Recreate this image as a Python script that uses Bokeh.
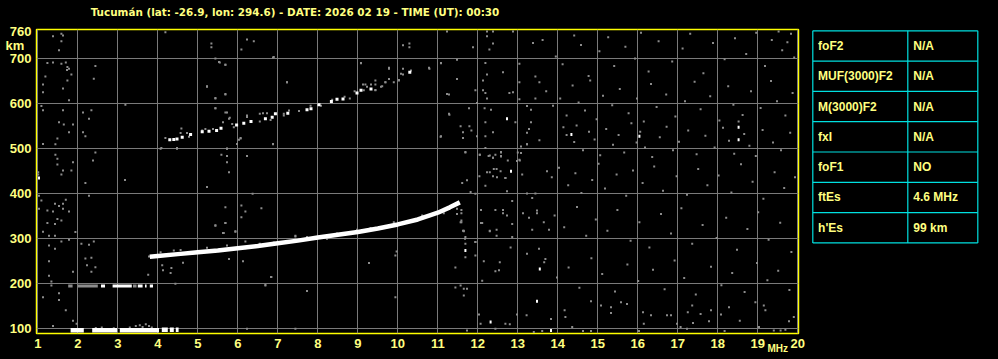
from bokeh.plotting import figure
from bokeh.layouts import row
from bokeh.models import FixedTicker, LinearAxis, Range1d
from bokeh.embed import file_html
from bokeh.resources import INLINE

# ---------------- data ----------------
title_text = "Tucumán (lat: -26.9, lon: 294.6) - DATE: 2026 02 19 - TIME (UT): 00:30"
freq_ticks = list(range(1, 21))
height_ticks = [100, 200, 300, 400, 500, 600, 700, 760]
grid_heights = [100, 200, 300, 400, 500, 600, 700]
km_unit_at = 730          # height at which the "km" unit text sits
mhz_unit_at = 19.5        # frequency at which the "MHz" unit text sits
title_at = 7.43           # frequency under the centre of the title

# F-layer main echo (MHz, km)
f_trace_freq = [3.80, 4.00, 4.50, 5.00, 5.50, 6.00, 6.50, 7.00, 7.50, 8.00, 8.50, 9.00,
                9.50, 10.00, 10.50, 10.80, 11.00, 11.30, 11.55]
f_trace_h = [260, 262, 266, 270, 274, 279, 284, 290, 296, 303, 309, 315,
             323, 332, 343, 352, 358, 370, 381]

# Es echo near 100 km: segments (start MHz, end MHz, km)
es1_start = [1.82, 2.36, 3.05, 4.10, 4.30, 4.45]
es1_end = [2.15, 2.98, 4.03, 4.25, 4.40, 4.52]
es1_h = [97, 97, 97, 98, 98, 98]

# second Es echo near 195 km (bright and faint parts)
es2_start = [2.58, 2.87, 3.50, 3.68, 3.80]
es2_end = [2.68, 3.35, 3.62, 3.72, 3.88]
es2_h = [195, 195, 195, 195, 195]
es2f_start = [1.76, 2.00, 3.38]
es2f_end = [1.87, 2.50, 3.47]
es2f_h = [195, 195, 195]

# second-hop F echo: bright dots
f2_bright_f = [4.30, 4.40, 4.48, 4.61, 4.82, 5.11, 5.28, 5.47, 5.58, 5.97, 6.15, 6.33,
               6.69, 6.86, 6.94, 7.25, 7.73, 7.83, 8.03, 8.34, 8.48, 8.63, 8.98, 9.08,
               9.33, 10.30]
f2_bright_h = [520, 521, 522, 526, 532, 538, 539, 541, 546, 553, 557, 561,
               567, 570, 578, 579, 587, 589, 598, 605, 610, 611, 624, 630,
               633, 670]

# other bright isolated dots
bright_f = [1.03, 11.69, 12.32, 12.73, 12.83, 13.48, 13.83, 14.34, 16.04, 18.52, 18.52, 13.55]
bright_h = [435, 274, 115, 567, 450, 161, 96, 532, 528, 548, 520, 233]

# faint (grey) echoes and background noise
noise_f = [
    # second-hop fringe
    4.19, 4.57, 4.73, 4.78, 5.11, 5.19, 5.38, 5.63, 5.86, 5.90, 6.23, 6.55, 6.55, 6.63, 6.73,
    6.82, 7.15, 7.28, 7.53, 7.82, 8.08, 8.36, 8.67, 8.80, 8.92, 9.13, 9.23, 9.33, 9.44, 9.44,
    9.58, 9.69, 9.78, 9.90, 10.03, 10.08, 10.13, 10.33, 10.78,
    # F-trace fringe
    3.78, 4.07, 4.40, 4.57, 5.23, 5.73, 6.19, 6.28, 6.55, 6.90, 7.23, 7.44, 7.73, 8.23, 8.48,
    8.98, 9.32, 9.90, 10.61, 11.15, 11.48, 11.48, 11.59, 11.65, 11.68,
    # Es fringe
    3.30, 3.45, 3.55, 3.62, 3.70, 3.78, 3.85, 2.45, 2.60, 2.90,
    # left region
    1.38, 1.59, 1.63, 1.59, 1.53, 1.24, 1.38, 1.59, 1.70, 1.74, 1.78, 1.73, 1.84, 1.19, 1.74,
    1.13, 1.63, 1.13, 1.78, 2.44, 2.40, 1.09, 1.13, 1.63, 2.13, 2.34, 2.28, 1.53, 1.65, 1.88,
    1.78, 2.13, 2.19, 1.49, 1.13, 1.44, 2.44, 1.44, 1.49, 1.88, 1.49, 2.38, 1.63, 1.84, 1.59,
    1.01, 1.01, 3.19, 4.19, 5.34, 5.34, 5.44, 5.53, 5.69, 5.23, 5.69, 5.44, 5.44, 5.69, 5.78,
    6.23, 6.40, 6.09, 6.88, 6.23, 6.88, 6.07, 5.73, 5.59, 5.73, 5.73, 5.78, 6.23, 7.15, 4.59,
    4.09, 4.48, 6.90,
    2.19, 2.28, 1.03, 1.09, 1.43, 1.53, 1.63, 1.70, 1.63, 1.78, 1.03, 1.24, 1.38, 1.49, 1.59,
    1.24, 1.43, 1.13, 1.94, 1.28, 1.43, 1.59, 1.78, 2.09, 2.28, 2.40, 1.28, 1.43, 2.19, 2.34,
    2.23, 2.44, 1.28, 2.34, 1.88, 1.28, 1.34, 1.34, 1.13, 1.53, 1.53, 1.70, 1.88, 1.38, 1.97,
    5.23, 5.69, 6.09, 6.19, 6.59, 6.09, 5.44, 5.69, 5.63, 5.94, 6.19, 5.78, 6.13, 4.63, 4.11,
    4.34, 4.13, 4.32, 3.76, 6.84, 6.69, 6.23, 6.37, 3.18, 4.44,
    5.44, 5.69, 5.94, 5.65, 6.69, 6.83, 7.73, 7.44, 7.44, 9.28, 9.94, 9.94, 9.97,
    # middle-upper region
    7.23, 9.08, 9.78, 10.13, 10.29, 10.29, 10.13, 10.03, 9.78, 10.79, 11.23, 11.08, 11.48,
    11.88, 11.48, 11.28, 11.94, 12.23, 12.23, 12.38, 12.38, 12.29, 12.88, 12.19, 12.23, 12.13,
    12.13, 12.19, 12.23, 12.63, 13.04, 13.04, 12.79, 12.88, 13.04, 13.38, 13.44, 13.54, 13.44,
    11.98, 11.78, 12.17, 12.33, 13.23, 13.33, 11.29, 11.57, 11.79, 11.63, 11.84, 11.63, 11.08,
    11.98, 12.19, 12.19, 12.38, 12.94, 13.23, 13.33, 13.28, 13.54, 13.23, 11.69, 12.05, 12.19,
    12.27, 12.38, 12.58, 12.58, 12.75, 13.08, 13.04, 12.98, 12.47, 12.57, 12.23, 12.04, 12.38,
    12.69, 9.44, 9.44, 9.61, 9.69, 9.19, 9.15, 5.23, 5.44, 5.69, 5.44, 5.73, 5.80, 6.03, 6.07,
    5.98, 7.23, 6.88, 5.55, 5.69, 9.08, 9.78, 11.08, 11.23, 11.28, 11.07, 4.07, 4.48, 5.73,
    # around 11-13 MHz, 250-500 km
    11.69, 12.05, 11.73, 11.61, 11.94, 11.82, 11.59, 11.59, 11.59, 11.63, 11.69, 11.69, 11.69,
    11.94, 11.94, 12.08, 12.08, 12.30, 12.44, 12.58, 12.58, 12.38, 12.30, 12.40, 12.48, 12.69,
    12.19, 12.73, 12.86, 12.44, 12.63, 12.63, 12.73, 12.30, 12.47, 12.86, 12.86, 12.82, 13.00,
    13.05, 13.08, 13.23, 13.11, 13.23, 13.44, 13.36, 13.13, 13.28, 13.48, 13.48, 13.36, 13.65,
    13.78, 13.69, 13.53, 13.73, 13.23,
    11.57, 11.65, 11.94, 12.11, 12.15, 12.11, 11.44, 11.44, 11.57, 11.65, 11.73, 11.65, 12.03,
    12.07, 11.73, 12.44, 12.47, 12.30, 12.44, 12.53, 12.55,
    # bottom right region
    12.69, 12.80, 12.98, 13.22, 13.40, 13.61, 13.83, 14.17, 14.19, 14.36, 14.63, 14.83, 14.83,
    15.08, 15.33, 15.33, 15.58, 15.73, 16.03, 16.13, 16.15, 16.33, 16.73, 16.83, 16.98, 17.07,
    17.23, 17.25, 17.36, 17.38, 17.57, 17.78, 17.83, 18.08, 18.17, 18.28, 18.55, 18.94, 19.03,
    19.15, 19.19, 19.40, 19.57, 19.78, 19.90, 19.69,
    # right region, upper
    13.62, 13.95, 14.12, 14.41, 14.58, 14.77, 15.04, 15.26, 15.41, 15.69, 15.93, 16.08, 16.27,
    16.52, 16.86, 17.12, 17.31, 17.64, 17.88, 18.17, 18.43, 18.71, 18.96, 19.18, 19.35, 19.52,
    19.61, 19.83, 19.91, 19.74,
    13.71, 13.88, 14.06, 14.22, 14.37, 14.52, 14.68, 14.81, 14.97, 15.13, 15.36, 15.55, 15.77,
    15.98, 16.15, 16.33, 16.47, 16.71, 16.94, 17.18, 17.42, 17.57, 17.81, 18.04, 18.26, 18.39,
    18.62, 18.83, 19.07, 19.33, 19.48, 19.69, 19.87,
    # right region, 480-560 km band
    14.14, 14.22, 14.41, 14.47, 14.63, 14.78, 14.92, 15.06, 15.21, 15.38, 15.52, 15.66, 15.84,
    15.97, 16.06, 16.18, 16.36, 16.55, 16.72, 16.88, 17.03, 17.26, 17.47, 17.69, 17.92, 18.13,
    18.28, 18.41, 18.52, 18.66, 18.79, 18.95, 19.12, 19.38, 19.58, 19.81,
    # right region, 390-470 km
    13.85, 14.03, 14.26, 14.44, 14.59, 14.86, 15.02, 15.18, 15.47, 15.71, 15.88, 16.12, 16.41,
    16.63, 16.97, 17.23, 17.51, 17.74, 18.02, 18.34, 18.58, 18.87, 19.14, 19.42, 19.66, 19.93,
    # right region, 270-370 km
    13.92, 14.16, 14.48, 14.71, 14.95, 15.24, 15.49, 15.82, 16.04, 16.29, 16.58, 16.83, 17.09,
    17.36, 17.62, 17.97, 18.21, 18.48, 18.74, 19.01, 19.27, 19.56, 19.84,
    # right region, 170-260 km
    13.66, 13.98, 14.27, 14.54, 14.84, 15.11, 15.43, 15.74, 16.01, 16.38, 16.67, 16.92, 17.16,
    17.45, 17.83, 18.09, 18.36, 18.67, 18.98, 19.24, 19.51, 19.79,
]
noise_h = [
    524, 535, 535, 527, 541, 544, 544, 559, 555, 548, 574, 561, 578, 579, 579,
    564, 578, 585, 584, 596, 596, 609, 616, 612, 628, 643, 638, 643, 643, 631,
    638, 648, 655, 648, 653, 667, 678, 674, 680,
    261, 270, 274, 275, 280, 285, 279, 280, 289, 292, 292, 305, 304, 300, 312,
    320, 324, 337, 352, 357, 367, 355, 341, 317, 300,
    103, 106, 108, 104, 110, 106, 103, 102, 103, 101,
    750, 756, 752, 739, 719, 691, 692, 689, 692, 682, 678, 675, 665, 661, 652,
    643, 634, 626, 608, 684, 656, 595, 586, 586, 581, 586, 567, 559, 554, 554,
    537, 537, 528, 523, 511, 510, 492, 487, 478, 470, 465, 474, 452, 452, 443,
    443, 448, 598, 759, 734, 726, 701, 693, 687, 639, 621, 612, 590, 581, 567,
    571, 739, 721, 703, 743, 510, 523, 501, 487, 484, 470, 448, 484, 574, 545,
    502, 502, 704,
    424, 396, 396, 385, 378, 373, 378, 387, 367, 361, 367, 363, 361, 344, 341,
    335, 333, 316, 315, 307, 307, 294, 298, 289, 287, 294, 285, 278, 256, 258,
    241, 237, 250, 227, 227, 218, 205, 196, 170, 179, 164, 141, 118, 106, 111,
    415, 370, 374, 361, 368, 348, 330, 335, 313, 316, 294, 255, 250, 247, 241,
    235, 230, 224, 220, 215, 198, 100, 400, 431, 200,
    329, 335, 317, 313, 196, 215, 184, 307, 100, 246, 263, 170, 272,
    648, 691, 678, 730, 734, 726, 665, 652, 655, 678, 761, 691, 698,
    726, 655, 621, 630, 761, 750, 761, 734, 721, 761, 691, 665, 652,
    630, 624, 612, 670, 689, 648, 624, 626, 610, 735, 661, 648, 612,
    602, 590, 590, 587, 595, 587, 576, 550, 550, 537, 541, 524, 528,
    528, 559, 528, 537, 559, 536, 559, 544, 519, 510, 493, 487, 502,
    484, 480, 493, 484, 474, 491, 476, 473, 455, 450, 448, 439, 439,
    435, 652, 630, 639, 648, 643, 630, 638, 613, 622, 590, 581, 569, 520, 524,
    511, 648, 511, 692, 687, 690, 680, 690, 622, 578, 527, 500, 500, 500,
    492, 487, 430, 424, 400, 404, 364, 357, 337, 318, 304, 289, 259,
    293, 263, 364, 335, 485, 487, 492, 483, 480, 448, 455, 437, 435,
    418, 406, 384, 364, 364, 357, 352, 318, 320, 333, 304, 281, 492,
    474, 505, 510, 443, 401, 401, 391, 357, 347, 363, 357, 320, 337,
    320, 255, 278, 450, 267,
    337, 318, 293, 335, 250, 207, 236, 192, 196, 189, 189, 174, 132,
    111, 96, 100, 307, 317, 228, 230, 248,
    111, 110, 132, 130, 93, 95, 122, 141, 126, 104, 95, 95, 161,
    152, 148, 135, 159, 155, 95, 137, 111, 130, 130, 130, 111, 104,
    100, 137, 152, 113, 133, 117, 141, 132, 95, 148, 118, 159, 104,
    152, 141, 96, 96, 117, 126, 98,
    742, 705, 688, 752, 731, 662, 717, 748, 684, 727, 701, 758, 672,
    739, 694, 723, 756, 668, 735, 699, 746, 711, 758, 684, 742, 761,
    719, 756, 703, 737,
    628, 596, 612, 574, 641, 603, 585, 652, 566, 618, 597, 633, 579,
    612, 561, 644, 593, 621, 572, 606, 649, 588, 617, 563, 639, 598,
    575, 628, 591, 651, 606, 574, 624,
    548, 531, 515, 552, 497, 538, 521, 486, 544, 509, 531, 492, 557,
    514, 538, 503, 482, 526, 549, 497, 516, 541, 488, 529, 503, 547,
    518, 489, 561, 533, 507, 484, 542, 514, 497, 536,
    437, 458, 419, 446, 402, 431, 467, 412, 443, 396, 452, 424, 461,
    407, 439, 398, 455, 419, 441, 403, 466, 427, 389, 448, 413, 437,
    352, 326, 371, 307, 343, 318, 364, 296, 337, 281, 355, 312, 368,
    289, 331, 302, 347, 276, 322, 359, 298, 336, 271,
    248, 214, 236, 191, 257, 222, 183, 243, 206, 231, 188, 252, 213,
    176, 238, 197, 224, 182, 246, 208, 229, 186,
]

# ionospheric parameter table
param_names = ["foF2", "MUF(3000)F2", "M(3000)F2", "fxI", "foF1", "ftEs", "h'Es"]
param_values = ["N/A", "N/A", "N/A", "N/A", "NO", "4.6 MHz", "99 km"]

# ---------------- styling ----------------
TXT = "#ffff80"
FONT = "Liberation Sans"
GRID = "#7a7a7a"
DOT = "#8c8c8c"
NBSP = "\u00a0"

X0, X1 = 0.9675, 20.0175
Y0, Y1 = 89.6, 765.2
p = figure(width=810, height=359, x_range=(X0, X1), y_range=(Y0, Y1),
           output_backend="svg", toolbar_location=None,
           min_border_left=36, min_border_right=12, min_border_top=29, min_border_bottom=26)
p.background_fill_color = "black"
p.border_fill_color = "black"
p.outline_line_color = "#ffff00"
p.outline_line_width = 1.5


def style_axis(ax, size="13px", font=FONT, standoff=5):
    ax.axis_line_color = None
    ax.major_tick_line_color = None
    ax.minor_tick_line_color = None
    ax.major_tick_in = 0
    ax.major_tick_out = 0
    ax.minor_tick_in = 0
    ax.minor_tick_out = 0
    ax.major_label_text_color = TXT
    ax.major_label_text_font = font
    ax.major_label_text_font_style = "bold"
    ax.major_label_text_font_size = size
    ax.major_label_standoff = standoff


style_axis(p.xaxis[0])
style_axis(p.yaxis[0])
p.xaxis.ticker = FixedTicker(ticks=freq_ticks)
p.yaxis.ticker = FixedTicker(ticks=height_ticks + [km_unit_at])
p.yaxis.major_label_overrides = {km_unit_at: "km" + NBSP * 2}

# unit "MHz" on a second bottom axis, tucked up next to the "20" label
unit_axis = LinearAxis(ticker=FixedTicker(ticks=[mhz_unit_at]),
                       major_label_overrides={mhz_unit_at: "MHz"})
style_axis(unit_axis, size="10px", standoff=-8)
p.add_layout(unit_axis, "below")

# title as top axis text
title_axis = LinearAxis(ticker=FixedTicker(ticks=[title_at]),
                        major_label_overrides={title_at: title_text})
style_axis(title_axis, size="10.4px", font="DejaVu Sans", standoff=12)
p.add_layout(title_axis, "above")

p.xgrid.ticker = FixedTicker(ticks=freq_ticks)
p.ygrid.ticker = FixedTicker(ticks=grid_heights)
for g in (p.xgrid[0], p.ygrid[0]):
    g.grid_line_color = GRID
    g.grid_line_width = 1

# noise and faint echoes
p.rect(noise_f, noise_h, width=2, height=2, width_units="screen", height_units="screen",
       fill_color=DOT, line_color=None)
p.segment(es2f_start, es2f_h, es2f_end, es2f_h, line_color=DOT, line_width=3)

# bright echoes
p.segment(es1_start, es1_h, es1_end, es1_h, line_color="white", line_width=4.5)
p.segment(es2_start, es2_h, es2_end, es2_h, line_color="white", line_width=3)
p.line(f_trace_freq, f_trace_h, line_color="white", line_width=4.5)
p.rect(f2_bright_f, f2_bright_h, width=3, height=3, width_units="screen", height_units="screen",
       fill_color="white", line_color=None)
p.rect(bright_f, bright_h, width=2, height=3, width_units="screen", height_units="screen",
       fill_color="white", line_color=None)

# ---------------- table (pixel coordinate frame aligned with main frame) ----------------
t = figure(width=188, height=359, x_range=Range1d(810, 998), y_range=Range1d(333, 29),
           output_backend="svg", toolbar_location=None,
           min_border_left=0, min_border_right=0, min_border_top=29, min_border_bottom=26)
t.background_fill_color = "black"
t.border_fill_color = "black"
t.outline_line_color = None
t.xaxis.visible = False
t.yaxis.visible = False
t.grid.visible = False

n = len(param_names)
x_left, x_mid, x_right = 812.3, 907.3, 977.3
top, row_h = 30.3, 30.3
hy = [top + i * row_h for i in range(n + 1)]
t.segment([x_left] * (n + 1), hy, [x_right] * (n + 1), hy, line_color="#00e0e0", line_width=1.2)
t.segment([x_left, x_mid, x_right], [top] * 3, [x_left, x_mid, x_right], [hy[-1]] * 3,
          line_color="#00e0e0", line_width=1.2)
cy = [top + (i + 0.5) * row_h for i in range(n)]
t.text([x_left + 5.3] * n, cy, text=param_names, text_color=TXT, text_font={"value": FONT},
       text_font_style="bold", text_font_size="12px", text_baseline="middle")
t.text([x_mid + 5.5] * n, cy, text=param_values, text_color=TXT, text_font={"value": FONT},
       text_font_style="bold", text_font_size="12px", text_baseline="middle")

layout = row(p, t, spacing=0)
layout.styles = {"background-color": "black"}
open("out.html", "w").write(file_html(layout, INLINE))
